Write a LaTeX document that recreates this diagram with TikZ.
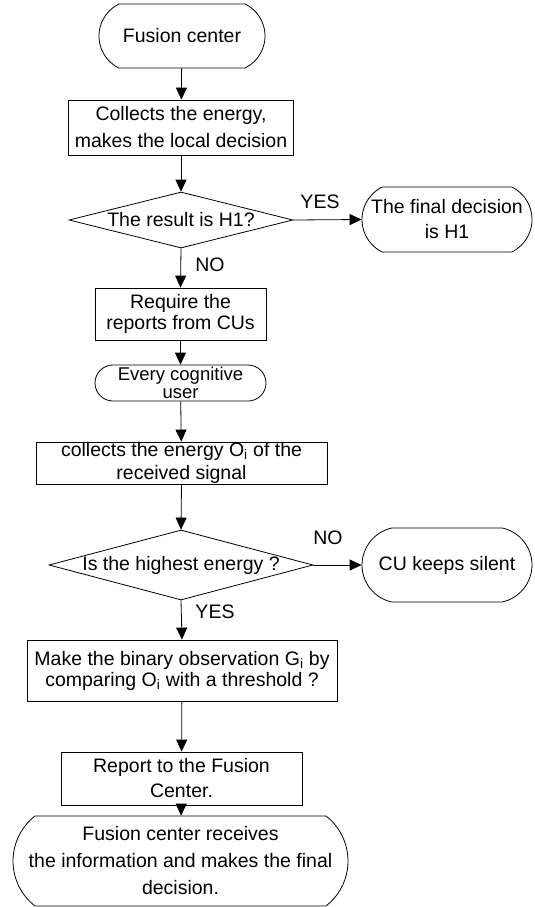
\documentclass[tikz,border=0pt]{standalone}
\usepackage{fontspec}
\setmainfont{Liberation Sans}
\usetikzlibrary{shapes.geometric,shapes.misc,arrows.meta}
\begin{document}
\begin{tikzpicture}[x=1pt,y=-1pt,
  every node/.style={font=\fontsize{19.5}{24}\selectfont, align=center},
  box/.style={draw, line width=0.8pt, rectangle, inner sep=0pt},
  term/.style={draw, line width=0.8pt, rounded rectangle, inner xsep=0pt, inner ysep=0pt},
  decis/.style={draw, line width=0.8pt, diamond, inner sep=0pt},
  lab/.style={inner sep=0pt},
  arr/.style={draw, line width=0.8pt, -{Triangle[length=12pt,width=11pt]}}
]
\useasboundingbox (0,0) rectangle (535,907);

\node[term, minimum width=166pt, minimum height=64pt, rounded rectangle arc length=127] (t1) at (182,36) {Fusion center};
\node[box, minimum width=225pt, minimum height=55pt, font=\fontsize{19.5}{27}\selectfont] (b1) at (181,127.5) {Collects the energy,\\makes the local decision};
\node[decis, minimum width=224pt, minimum height=56pt] (d1) at (181,220) {\makebox[0pt]{The result is H1?}};
\node[term, minimum width=170pt, minimum height=65pt, rounded rectangle arc length=127, font=\fontsize{19.5}{25}\selectfont] (t2) at (447,219.5) {The final decision\\is H1};
\node[box, minimum width=171pt, minimum height=52pt, font=\fontsize{19.5}{21}\selectfont] (b2) at (180.5,314) {Require the\\reports from CUs};
\node[term, minimum width=171pt, minimum height=36pt, rounded rectangle arc length=180, font=\fontsize{18.5}{18.5}\selectfont] (t3) at (180.5,383) {Every cognitive\\user};
\node[box, minimum width=291pt, minimum height=42pt, font=\fontsize{19.5}{23}\selectfont] (b3) at (181.5,463) {collects the energy O\textsubscript{i} of the\\received signal};
\node[decis, minimum width=264pt, minimum height=70pt] (d2) at (181,565) {\makebox[0pt]{Is the highest energy ?}};
\node[term, minimum width=170pt, minimum height=74pt, rounded rectangle arc length=155] (t4) at (447,565) {CU keeps silent};
\node[box, minimum width=310pt, minimum height=61pt, font=\fontsize{19.5}{21}\selectfont] (b4) at (182,670.5) {Make the binary observation G\textsubscript{i} by\\comparing O\textsubscript{i} with a threshold ?};
\node[box, minimum width=241pt, minimum height=53pt, font=\fontsize{19.5}{25}\selectfont] (b5) at (181.5,778.5) {Report to the Fusion\\Center.};
\node[term, minimum width=335pt, minimum height=90pt, rounded rectangle arc length=104, font=\fontsize{19.5}{27}\selectfont] (t5) at (180.5,861) {Fusion center receives\\the information and makes the final\\decision.};

\node[lab] (y1) at (320,202) {YES};
\node[lab] (n1) at (210,265) {NO};
\node[lab] (n2) at (328,538) {NO};
\node[lab] (y2) at (215,612) {YES};

\draw[arr] (t1) -- (b1);
\draw[arr] (b1) -- (d1);
\draw[arr] (d1.east) -- (t2.west);
\draw[arr] (d1.south) -- (b2.north);
\draw[arr] (b2) -- (t3);
\draw[arr] (t3) -- (b3);
\draw[arr] (b3.south) -- (d2.north);
\draw[arr] (d2.east) -- (t4.west);
\draw[arr] (d2.south) -- (b4.north);
\draw[arr] (b4) -- (b5);
\draw[arr] (b5) -- (t5);
\end{tikzpicture}
\end{document}
